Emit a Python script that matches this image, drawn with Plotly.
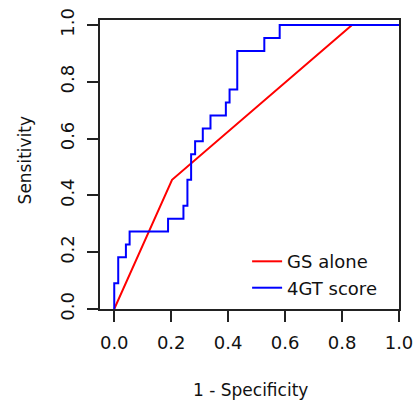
import plotly.graph_objects as go

# GS alone ROC (1 - specificity, sensitivity)
gs_fpr = [0.0, 0.203, 0.835, 1.0]
gs_tpr = [0.0, 0.455, 1.0, 1.0]

# 4GT score ROC step curve vertices
gt_fpr = [0.0, 0.0, 0.014, 0.014, 0.041, 0.041, 0.054, 0.054, 0.189, 0.189,
          0.243, 0.243, 0.257, 0.257, 0.270, 0.270, 0.284, 0.284, 0.311, 0.311,
          0.338, 0.338, 0.392, 0.392, 0.405, 0.405, 0.432, 0.432, 0.527, 0.527,
          0.581, 0.581, 1.0]
gt_tpr = [0.0, 0.091, 0.091, 0.182, 0.182, 0.227, 0.227, 0.273, 0.273, 0.318,
          0.318, 0.364, 0.364, 0.455, 0.455, 0.545, 0.545, 0.591, 0.591, 0.636,
          0.636, 0.682, 0.682, 0.727, 0.727, 0.773, 0.773, 0.909, 0.909, 0.955,
          0.955, 1.0, 1.0]

x_ticks = [0.0, 0.2, 0.4, 0.6, 0.8, 1.0]
y_ticks = [0.0, 0.2, 0.4, 0.6, 0.8, 1.0]
tick_text = ["0.0", "0.2", "0.4", "0.6", "0.8", "1.0"]

FONT = "DejaVu Sans"
TXT = "#111"

fig = go.Figure()
fig.add_trace(go.Scatter(x=gs_fpr, y=gs_tpr, mode="lines", name="GS alone",
                         line=dict(color="#ff0000", width=2), cliponaxis=False))
fig.add_trace(go.Scatter(x=gt_fpr, y=gt_tpr, mode="lines", name="4GT score",
                         line=dict(color="#0000ff", width=2), cliponaxis=False))

axis_common = dict(showline=True, linecolor="#222", linewidth=1.5, mirror=True,
                   ticks="outside", ticklen=11, tickwidth=1.5, tickcolor="#222",
                   showgrid=False, zeroline=False, automargin=False,
                   tickfont=dict(family=FONT, size=18, color=TXT))

fig.update_xaxes(range=[-0.05, 1.0], tickvals=x_ticks, ticktext=tick_text,
                 ticklabelstandoff=6, **axis_common)
fig.update_yaxes(range=[0.0, 1.018], tickvals=y_ticks, ticktext=tick_text, tickangle=-90,
                 ticklabelstandoff=6, **axis_common)

fig.update_layout(
    width=414, height=400,
    margin=dict(l=100, r=14.5, t=20, b=91),
    paper_bgcolor="white", plot_bgcolor="white",
    font=dict(family=FONT, size=18, color=TXT),
    legend=dict(x=0.492, y=0.01, xanchor="left", yanchor="bottom",
                bgcolor="rgba(0,0,0,0)", font=dict(family=FONT, size=18, color=TXT),
                tracegroupgap=0),
    showlegend=True,
    annotations=[
        dict(text="1 - Specificity", xref="paper", yref="paper", x=0.503, y=-0.28,
             xanchor="center", yanchor="middle", showarrow=False,
             font=dict(family=FONT, size=17, color=TXT)),
        dict(text="Sensitivity", xref="paper", yref="paper", x=-0.25, y=0.515,
             xanchor="center", yanchor="middle", showarrow=False, textangle=-90,
             font=dict(family=FONT, size=17, color=TXT)),
    ],
)

# remove the default 8px page margin so the 414x400 figure fills the window exactly
fig.write_html("out.html", config={"displayModeBar": False},
               post_script="document.body.style.margin='0';document.body.style.overflow='hidden';")
